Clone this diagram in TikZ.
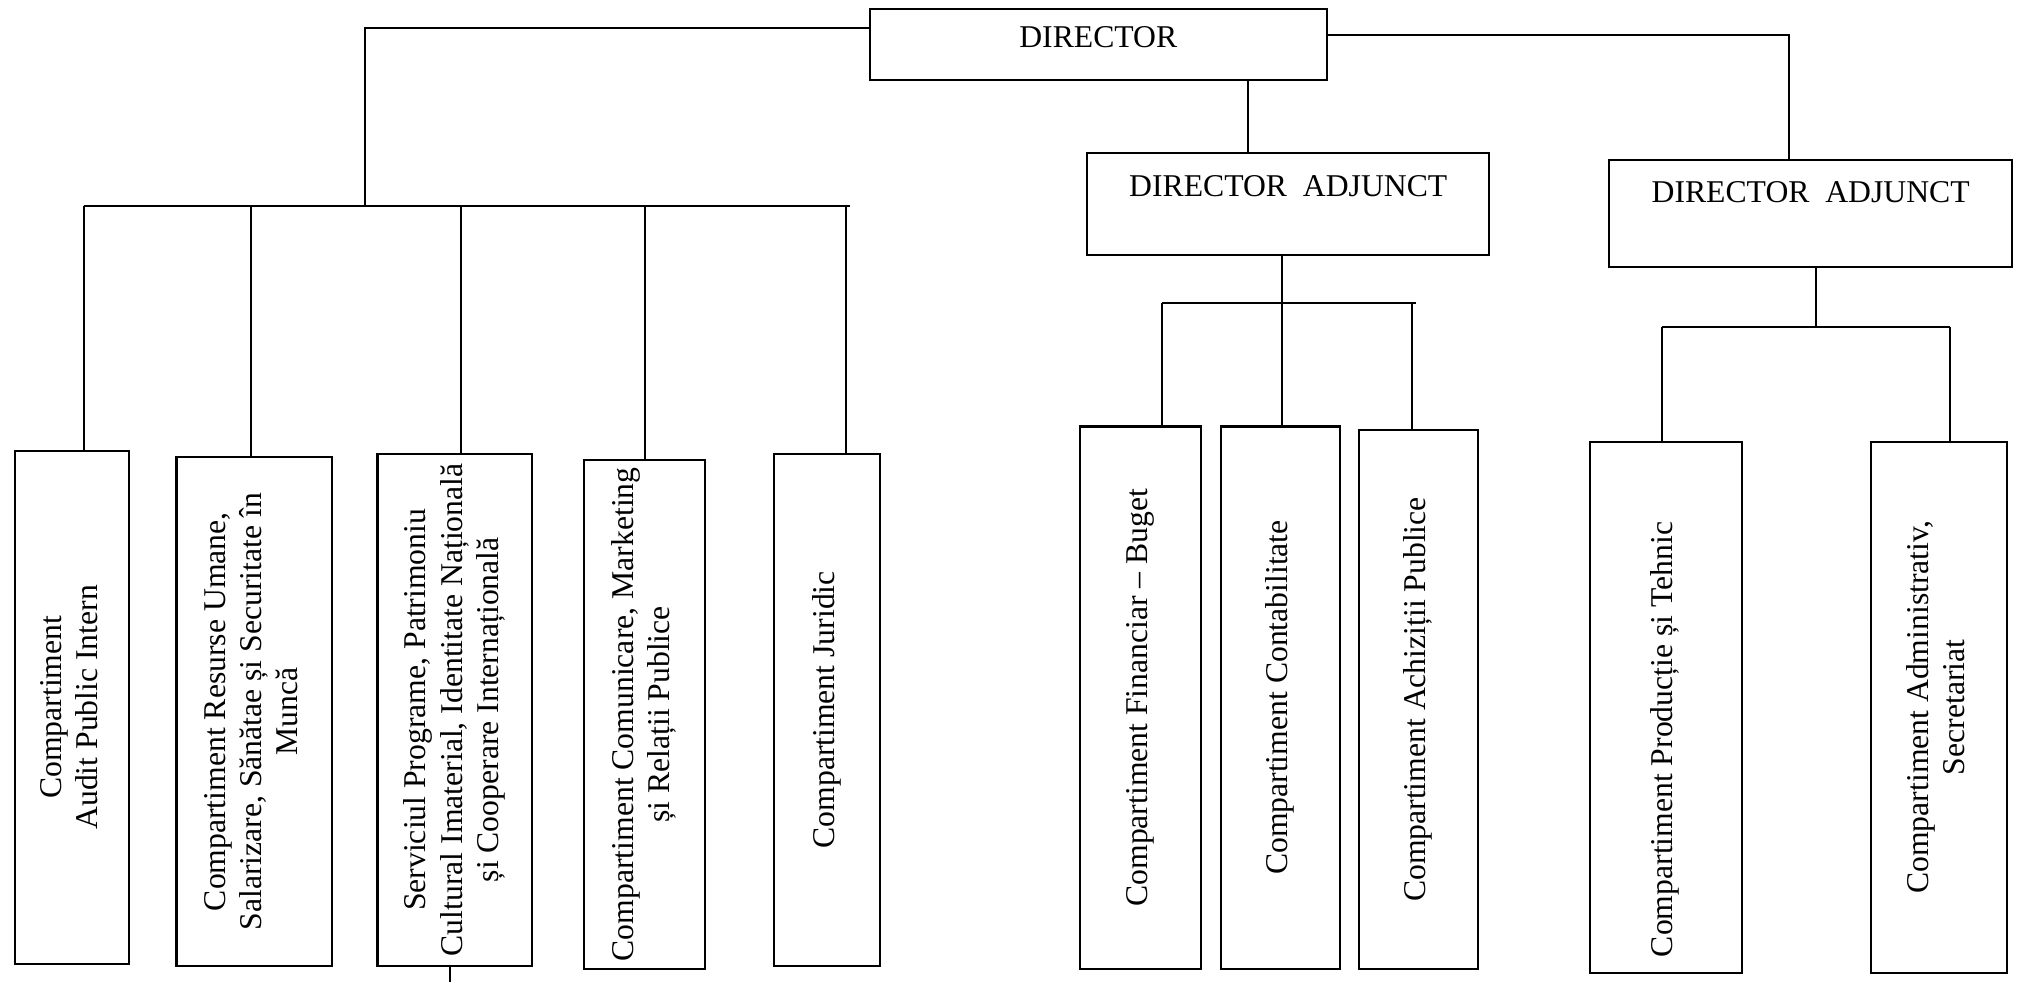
\documentclass[tikz,border=0pt]{standalone}
\usepackage{fontspec}
\setmainfont{Liberation Serif}
\usepackage{graphicx}
\newcommand{\sidetext}[1]{\rotatebox{90}{\begin{tabular}{@{}c@{}}#1\end{tabular}}}

\begin{document}
\begin{tikzpicture}[x=0.02cm, y=-0.02cm, line width=0.9pt,
  font=\fontsize{14}{16}\selectfont,
  unit/.style 2 args={draw, inner sep=0pt, minimum width=#1, minimum height=#2}]
% Fix the page size
\useasboundingbox (0,0) rectangle (1568,762);

% Draw the director boxes
\node[unit={7.1cm}{1.1cm}, text depth=0.22cm] (dir) at (852.5,34.5) {DIRECTOR};
\node[unit={6.24cm}{1.58cm}, text depth=0.58cm] (adj1) at (1000,158.5) {DIRECTOR~~ADJUNCT};
\node[unit={6.26cm}{1.66cm}, text depth=0.66cm] (adj2) at (1405.5,165.5) {DIRECTOR~~ADJUNCT};

% Draw the compartments, text turned upwards
\node[unit={1.76cm}{7.96cm}] (audit) at (56,549) {\sidetext{Compartiment\\Audit Public Intern}};
\node[unit={2.42cm}{7.90cm}] (hr) at (197.5,552.5) {\sidetext{Compartiment Resurse Umane,\\Salarizare, Sănătae și Securitate în\\Muncă}};
\node[unit={2.40cm}{7.96cm}] (prog) at (353,551) {\sidetext{Serviciul Programe, Patrimoniu\\Cultural Imaterial, Identitate Națională\\și Cooperare Internațională}};
\node[unit={1.88cm}{7.90cm}] (pr) at (500,554.5) {\sidetext{Compartiment Comunicare, Marketing\\și Relații Publice}};
\node[unit={1.64cm}{7.96cm}] (legal) at (642,551) {\sidetext{Compartiment Juridic}};
\node[unit={1.88cm}{8.42cm}] (fin) at (885,541.5) {\sidetext{Compartiment Financiar – Buget}};
\node[unit={1.84cm}{8.42cm}] (acc) at (994,541.5) {\sidetext{Compartiment Contabilitate}};
\node[unit={1.84cm}{8.36cm}] (buy) at (1101,543) {\sidetext{Compartiment Achiziții Publice}};
\node[unit={2.36cm}{8.24cm}] (tech) at (1293,549) {\sidetext{Compartiment Producție și Tehnic\hspace*{1cm}}};
\node[unit={2.12cm}{8.24cm}] (adm) at (1505,549) {\sidetext{Compartiment Administrativ,\\Secretariat}};

% Lines from the director
\coordinate (lt) at (283,22);
\coordinate (lbar) at (283,160);
\coordinate (rt) at (1389,27);
\coordinate (mt) at (969,0);
\draw (lt -| dir.west) -- (lt) -- (lbar);
\draw (rt -| dir.east) -- (rt) -- (rt |- adj2.north);
\draw (mt |- dir.south) -- (mt |- adj1.north);

% Left branch
\draw (65,160) -- (660,160);
\foreach \x/\n in {65/audit, 195/hr, 358/prog, 501/pr, 657/legal}
  \draw (\x,160) -- (\x,160 |- \n.north);
\coordinate (stub) at (349,762);
\draw (stub |- prog.south) -- (stub);

% Middle branch
\coordinate (mbar) at (995,235);
\draw (mbar |- adj1.south) -- (mbar);
\draw (902,235) -- (1099,235);
\foreach \x/\n in {902/fin, 995/acc, 1096/buy}
  \draw (\x,235) -- (\x,235 |- \n.north);

% Right branch
\coordinate (rbar) at (1410,254);
\draw (rbar |- adj2.south) -- (rbar);
\draw (1290,254) -- (1514,254);
\foreach \x/\n in {1290/tech, 1514/adm}
  \draw (\x,254) -- (\x,254 |- \n.north);
\end{tikzpicture}
\end{document}
